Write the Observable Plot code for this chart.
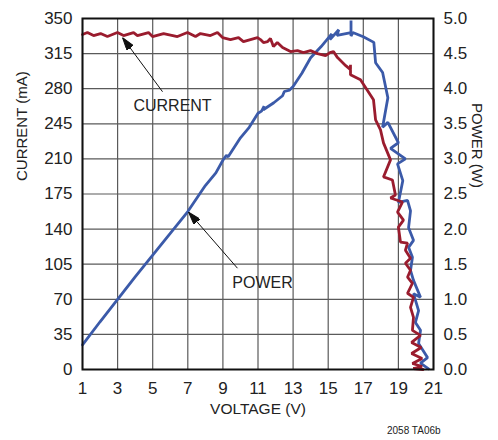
<!DOCTYPE html>
<html>
<head>
<meta charset="utf-8">
<script src="https://cdn.jsdelivr.net/npm/d3@7"></script>
<script src="https://cdn.jsdelivr.net/npm/@observablehq/plot@0.6"></script>
<style>
  html, body { margin: 0; padding: 0; background: #fff; }
  #wrap { width: 498px; }
  #caption { width: 498px; height: 18px; position: relative; font-family: "Liberation Sans", Arial, sans-serif; font-size: 10px; color: #222; }
  #caption span { position: absolute; left: 387px; top: 3px; }
</style>
</head>
<body>
<div id="wrap"></div>
<div id="caption"><span>2058 TA06b</span></div>
<script>
// ---- data ----
const xTicks = [1, 3, 5, 7, 9, 11, 13, 15, 17, 19, 21];
const currentTicks = [0, 35, 70, 105, 140, 175, 210, 245, 280, 315, 350];
const powerTicks = [0, 0.5, 1.0, 1.5, 2.0, 2.5, 3.0, 3.5, 4.0, 4.5, 5.0];

// CURRENT (mA) vs VOLTAGE (V)
const currentVolts = [1.00, 1.28, 1.63, 2.03, 2.42, 2.99, 3.34, 3.91, 4.13, 4.76, 4.99, 5.62, 6.41, 6.98, 7.44, 7.72, 8.29, 8.69, 8.98, 9.43, 9.89, 10.17, 10.97, 11.14, 11.31, 11.55, 11.71, 11.88, 12.10, 12.40, 12.85, 13.25, 13.59, 13.99, 14.39, 14.85, 15.10, 15.30, 15.53, 16.00, 16.27, 16.27, 16.27, 16.84, 17.58, 17.70, 17.98, 18.15, 18.55, 18.15, 18.66, 18.83, 18.55, 19.23, 18.95, 19.29, 19.00, 19.12, 19.52, 19.40, 19.69, 19.40, 19.69, 19.52, 19.80, 19.52, 19.86, 19.69, 19.86, 19.80, 20.26, 19.75, 20.30, 19.75, 20.35, 19.80, 20.35, 19.85, 20.40];
const currentMA = [334, 336, 333, 335, 332, 336, 333, 336, 333, 336, 332, 335, 332, 336, 332, 335, 333, 336, 331, 329, 331, 327, 331, 329, 326, 327, 330, 322, 326, 321, 317, 318, 316, 318, 315, 313, 316, 317, 311, 303, 299, 304, 294, 289, 269, 249, 239, 226, 209, 192, 189, 174, 171, 167, 157, 149, 142, 127, 126, 119, 111, 106, 99, 92, 86, 76, 72, 62, 52, 39, 34, 27, 22, 16, 11, 6, 3, 1, 0];

// POWER (W) vs VOLTAGE (V)
const powerVolts = [1.00, 2.00, 3.00, 4.00, 5.00, 6.00, 7.00, 8.00, 8.60, 9.00, 9.20, 9.30, 10.00, 10.50, 11.00, 11.20, 11.35, 11.30, 11.90, 12.40, 12.50, 12.80, 13.00, 13.50, 14.00, 14.60, 15.20, 15.10, 15.60, 15.50, 16.30, 16.30, 16.30, 16.40, 17.00, 17.60, 17.70, 18.10, 18.40, 18.10, 18.40, 19.00, 18.55, 19.40, 18.95, 19.25, 19.00, 19.52, 19.69, 19.58, 19.86, 19.58, 19.80, 19.69, 19.86, 20.26, 19.86, 20.15, 19.97, 20.26, 20.15, 20.66, 20.26, 20.72];
const powerW = [0.35, 0.68, 1.00, 1.32, 1.63, 1.94, 2.25, 2.62, 2.80, 2.98, 3.05, 3.03, 3.30, 3.45, 3.65, 3.68, 3.75, 3.70, 3.80, 3.90, 3.96, 3.98, 4.03, 4.22, 4.44, 4.60, 4.78, 4.70, 4.84, 4.76, 4.80, 4.97, 4.75, 4.80, 4.74, 4.66, 4.37, 4.23, 3.87, 3.45, 3.52, 3.23, 3.15, 3.00, 2.93, 2.69, 2.38, 2.41, 2.26, 2.02, 1.84, 1.74, 1.60, 1.41, 1.27, 1.03, 1.08, 0.84, 0.67, 0.56, 0.37, 0.17, 0.09, 0.01];

// annotations: label text, label position, arrow start, arrow tip (data units: V, mA)
const noteText = ["CURRENT", "POWER"];
const noteLabelV = [6.13, 11.26];
const noteLabelI = [263, 86];
const noteFromV = [5.56, 9.83];
const noteFromI = [277, 101];
const noteToV = [3.28, 7.04];
const noteToI = [331, 157];

// ---- build ----
const mAperW = 350 / 5; // right axis 0..5 W maps onto 0..350 mA
const currentData = currentVolts.map((v, i) => ({v, i: currentMA[i]}));
const powerData = powerVolts.map((v, k) => ({v, p: powerW[k]}));
const notes = noteText.map((t, k) => ({t, lv: noteLabelV[k], li: noteLabelI[k], fv: noteFromV[k], fi: noteFromI[k], tv: noteToV[k], ti: noteToI[k]}));
const powerTickData = powerTicks.map(p => ({p}));

function filledArrow() {
  const ns = "http://www.w3.org/2000/svg";
  const m = document.createElementNS(ns, "marker");
  m.setAttribute("viewBox", "-13 -4 13 8");
  m.setAttribute("markerWidth", "13");
  m.setAttribute("markerHeight", "8");
  m.setAttribute("markerUnits", "userSpaceOnUse");
  m.setAttribute("orient", "auto");
  m.setAttribute("refX", "0");
  m.setAttribute("refY", "0");
  const p = document.createElementNS(ns, "path");
  p.setAttribute("d", "M-13,-4L0,0L-13,4Z");
  p.setAttribute("fill", "#111");
  m.appendChild(p);
  return m;
}

const FONT = '"Liberation Sans", Arial, sans-serif';
const RED = "#9a1c2e";
const BLUE = "#3b5aa9";

const chart = Plot.plot({
  width: 498,
  height: 422,
  marginLeft: 82,
  marginRight: 65,
  marginTop: 18,
  marginBottom: 53,
  style: {fontFamily: FONT, fontSize: "17px", color: "#222", background: "#fff", overflow: "visible"},
  x: {domain: [1, 21], ticks: xTicks, tickSize: 0, tickPadding: 12, label: null},
  y: {domain: [0, 350], ticks: currentTicks, tickSize: 0, tickPadding: 10, label: null},
  marks: [
    Plot.ruleX(xTicks, {stroke: "#5a5a5a", strokeWidth: 1.2}),
    Plot.ruleY(currentTicks, {stroke: "#5a5a5a", strokeWidth: 1.2}),
    Plot.line(powerData, {x: "v", y: d => d.p * mAperW, stroke: BLUE, strokeWidth: 2.8, strokeLinejoin: "miter", curve: "linear"}),
    Plot.line(currentData, {x: "v", y: "i", stroke: RED, strokeWidth: 2.8, strokeLinejoin: "miter", curve: "linear"}),
    Plot.frame({stroke: "#111", strokeWidth: 2}),
    Plot.link(notes, {x1: "fv", y1: "fi", x2: "tv", y2: "ti", stroke: "#111", strokeWidth: 1, markerEnd: filledArrow}),
    Plot.text(notes, {x: "lv", y: "li", text: "t", fill: "#222", fontSize: 16}),
    Plot.text(powerTickData, {x: () => 21, y: d => d.p * mAperW, text: d => d.p.toFixed(1), textAnchor: "start", dx: 10, fill: "#222", fontSize: 17}),
    Plot.text(["VOLTAGE (V)"], {frameAnchor: "bottom", dy: 44, fill: "#222", fontSize: 15.5}),
    Plot.text(["CURRENT (mA)"], {frameAnchor: "left", dx: -60, dy: -13, rotate: -90, fill: "#222", fontSize: 15}),
    Plot.text(["POWER (W)"], {frameAnchor: "right", dx: 43, dy: -6, rotate: 90, fill: "#222", fontSize: 15})
  ]
});
document.getElementById("wrap").appendChild(chart);
</script>
</body>
</html>
